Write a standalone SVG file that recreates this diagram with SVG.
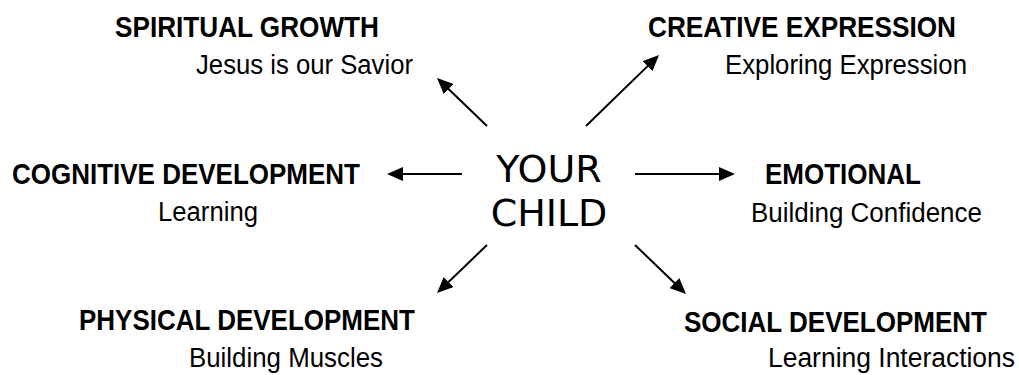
<svg xmlns="http://www.w3.org/2000/svg" width="1019" height="375" viewBox="0 0 1019 375">
<style>
.h{font-family:"Liberation Sans",Arial,sans-serif;font-weight:bold;font-size:30px;fill:#000}
.s{font-family:"Liberation Sans",Arial,sans-serif;font-size:27px;fill:#000}
.c{font-family:"Comic Sans MS","DejaVu Sans",sans-serif;font-size:38px;fill:#000;text-anchor:middle}
.a{stroke:#000;stroke-width:2;fill:none;marker-end:url(#ah)}
</style>
<defs>
<marker id="ah" markerUnits="userSpaceOnUse" markerWidth="16" markerHeight="14" refX="8" refY="7" orient="auto">
<path d="M0,0 L16,7 L0,14 Z" fill="#000"/>
</marker>
</defs>
<rect width="1019" height="375" fill="#fff"/>
<g id="center">
<text class="c" x="549" y="182">YOUR</text>
<text class="c" x="549" y="226">CHILD</text>
</g>
<g id="spiritual">
<text class="h" x="115" y="36.5" textLength="264" lengthAdjust="spacingAndGlyphs">SPIRITUAL GROWTH</text>
<text class="s" x="196" y="74" textLength="217" lengthAdjust="spacingAndGlyphs">Jesus is our Savior</text>
</g>
<g id="creative">
<text class="h" x="648" y="37" textLength="308" lengthAdjust="spacingAndGlyphs">CREATIVE EXPRESSION</text>
<text class="s" x="725" y="74" textLength="242" lengthAdjust="spacingAndGlyphs">Exploring Expression</text>
</g>
<g id="cognitive">
<text class="h" x="12" y="183.5" textLength="348" lengthAdjust="spacingAndGlyphs">COGNITIVE DEVELOPMENT</text>
<text class="s" x="158" y="221" textLength="100" lengthAdjust="spacingAndGlyphs">Learning</text>
</g>
<g id="emotional">
<text class="h" x="765" y="184" textLength="156" lengthAdjust="spacingAndGlyphs">EMOTIONAL</text>
<text class="s" x="751" y="222" textLength="231" lengthAdjust="spacingAndGlyphs">Building Confidence</text>
</g>
<g id="physical">
<text class="h" x="79" y="330" textLength="336" lengthAdjust="spacingAndGlyphs">PHYSICAL DEVELOPMENT</text>
<text class="s" x="189" y="367" textLength="194" lengthAdjust="spacingAndGlyphs">Building Muscles</text>
</g>
<g id="social">
<text class="h" x="684" y="332" textLength="303" lengthAdjust="spacingAndGlyphs">SOCIAL DEVELOPMENT</text>
<text class="s" x="768" y="367" textLength="247" lengthAdjust="spacingAndGlyphs">Learning Interactions</text>
</g>
<g id="connectors">
<line class="a" x1="487" y1="126" x2="442.8" y2="83.5"/>
<line class="a" x1="586" y1="126" x2="653.3" y2="60.6"/>
<line class="a" x1="462" y1="174" x2="395" y2="174"/>
<line class="a" x1="635" y1="174" x2="727" y2="174"/>
<line class="a" x1="487" y1="245" x2="442.8" y2="287.5"/>
<line class="a" x1="635" y1="245" x2="680.2" y2="288.5"/>
</g>
</svg>
